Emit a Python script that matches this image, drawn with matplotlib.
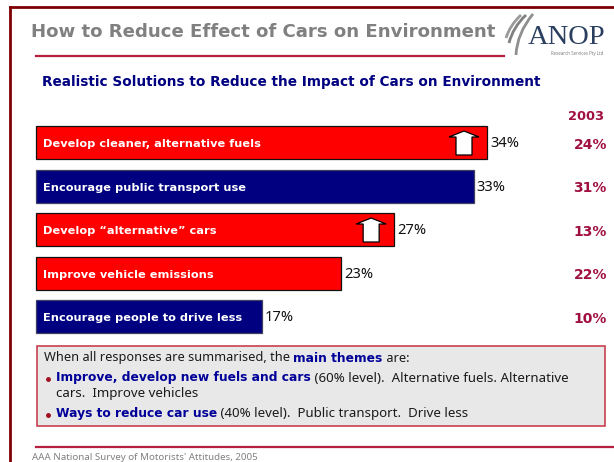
import matplotlib
matplotlib.use("Agg")
import matplotlib.pyplot as plt
from matplotlib.patches import Rectangle, Polygon, PathPatch
from matplotlib.path import Path

W, H = 614, 462

# ---------------- data ----------------
labels = ["Develop cleaner, alternative fuels", "Encourage public transport use",
          "Develop \u201calternative\u201d cars", "Improve vehicle emissions",
          "Encourage people to drive less"]
values_2005 = [34, 33, 27, 23, 17]
values_2003 = [24, 31, 13, 22, 10]
bar_colors = ["#ff0000", "#000080", "#ff0000", "#ff0000", "#000080"]
edge_colors = ["#111111", "#404060", "#111111", "#111111", "#404060"]
arrow_rows = [0, 2]

title = "How to Reduce Effect of Cars on Environment"
subtitle = "Realistic Solutions to Reduce the Impact of Cars on Environment"
year_label = "2003"
footer = "AAA National Survey of Motorists' Attitudes, 2005"

REG = ["Noto Sans", "DejaVu Sans"]
BOLD = ["DejaVu Sans"]

plt.rcParams["font.family"] = REG
fig = plt.figure(figsize=(W / 100, H / 100), dpi=100, facecolor="white")

# overlay in pixel coords for the slide furniture
bg = fig.add_axes([0, 0, 1, 1])
bg.set_xlim(0, W)
bg.set_ylim(H, 0)
bg.axis("off")

bg.plot([9.5, 9.5], [7, H], color="#7f0000", lw=2)
bg.plot([9.5, W], [7, 7], color="#7f0000", lw=2)
bg.plot([36, 504], [56, 56], color="#b5203f", lw=1.6)
bg.plot([36, W], [447, 447], color="#b5203f", lw=1.6)

bg.text(31, 32, title, family=BOLD, fontsize=13.1, fontweight="bold", color="#808080", va="center")
bg.text(42, 82, subtitle, family=BOLD, fontsize=9.85, fontweight="bold", color="#000080", va="center")
bg.text(32, 458, footer, fontsize=7, color="#808080", va="center")

# logo
bg.text(528, 37.5, "ANOP", family="Liberation Serif", fontsize=20.5, color="#2a3f60", va="center")
for start, ctrl, end, c in [((506, 38), (510, 25), (521, 15), "#9a9a9a"),
                            ((509, 43), (513, 27), (526, 15), "#808080"),
                            ((516, 55), (517, 33), (533, 14), "#8f8f8f")]:
    bg.add_patch(PathPatch(Path([start, ctrl, end], [Path.MOVETO, Path.CURVE3, Path.CURVE3]),
                           fc="none", ec=c, lw=2))
bg.text(577, 54, "Research Services Pty Ltd", fontsize=3.2, color="#808080", ha="center", va="center")

# bars
px_per_unit = (487 - 36) / 34
ax = fig.add_axes([36 / W, 1 - 338.5 / H, 451 / W, 217.5 / H])
ax.set_xlim(0, 34)
ax.set_ylim(4.5, -0.5)
ax.axis("off")
ypos = list(range(len(labels)))
ax.barh(ypos, values_2005, height=0.77, color=bar_colors, edgecolor=edge_colors, linewidth=0.9, clip_on=False)
for i, (lab, v) in enumerate(zip(labels, values_2005)):
    ax.text(7 / px_per_unit, i + 0.03, lab, family=BOLD, color="white", fontweight="bold", fontsize=8.2, va="center")
    ax.text(v + 3 / px_per_unit, i + 0.02, f"{v}%", color="#111111", fontsize=10.6, va="center", clip_on=False)

# 2003 column
for i, v in enumerate(values_2003):
    ax.text(34 + 120 / px_per_unit, i + 0.05, f"{v}%", family=BOLD, color="#a01040", fontweight="bold",
            fontsize=10, ha="right", va="center", clip_on=False)
bg.text(604, 117, year_label, family=BOLD, color="#a01040", fontweight="bold", fontsize=9.4, ha="right", va="center")

# up arrows
for i in arrow_rows:
    xc = values_2005[i] * px_per_unit + 36 - 23
    yc = 142.5 + 43.5 * i
    pts = [(xc, yc - 11.5), (xc + 15, yc - 5.5), (xc + 8, yc - 5.5), (xc + 8, yc + 12.5),
           (xc - 8, yc + 12.5), (xc - 8, yc - 5.5), (xc - 15, yc - 5.5)]
    bg.add_patch(Polygon(pts, closed=True, fc="white", ec="black", lw=0.9, zorder=5))
bg.set_zorder(2)
bg.patch.set_alpha(0)

# summary box
bg.add_patch(Rectangle((37, 346), 568, 80, fc="#e8e8e8", ec="#c8404f", lw=1.2, zorder=1))


def line(x, y, parts, size=9.55):
    r = fig.canvas.get_renderer()
    for s, bold in parts:
        t = bg.text(x, y, s, fontsize=8.8 if bold else size, va="center", zorder=6,
                    family=BOLD if bold else REG,
                    fontweight="bold" if bold else "normal",
                    color="#000099" if bold else "#1a1a1a")
        x += t.get_window_extent(r).width


line(44, 358, [("When all responses are summarised, the ", False), ("main themes", True), (" are:", False)], size=9.2)
bg.plot([47.5], [379], "o", ms=2.5, color="#a01020", zorder=6)
line(56, 378, [("Improve, develop new fuels and cars", True), (" (60% level).  Alternative fuels. Alternative", False)])
line(56, 394, [("cars.  Improve vehicles", False)])
bg.plot([47.5], [415], "o", ms=2.5, color="#a01020", zorder=6)
line(56, 414, [("Ways to reduce car use", True), (" (40% level).  Public transport.  Drive less", False)])

fig.savefig("out.png", dpi=100)
